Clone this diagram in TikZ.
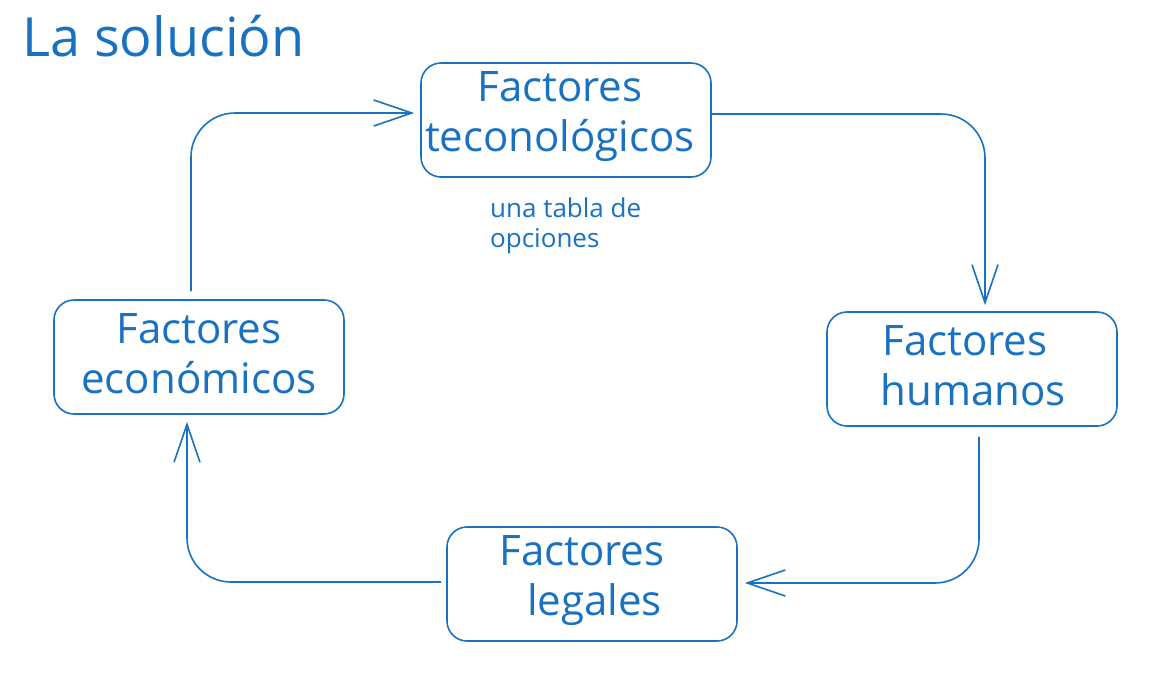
\documentclass[tikz,border=0pt]{standalone}
\usepackage{fontspec}
\setmainfont{Open Sans}
\usetikzlibrary{arrows.meta}
\definecolor{ink}{HTML}{1971C2}
\tikzset{
  box/.style={draw=ink, line width=1.6pt, rounded corners=20pt, minimum width=290pt, minimum height=114pt, inner sep=0pt},
  lbl/.style={text=ink, font=\fontsize{42}{50}\selectfont, align=center},
  conn/.style={draw=ink, line width=1.6pt, rounded corners=44pt, -{Straight Barb[length=38pt,width=26pt,line width=1.6pt]}},
}
\begin{document}
\begin{tikzpicture}[x=1pt,y=-1pt]
\useasboundingbox (0,0) rectangle (1164,686);
\node[box] (tec) at (566,120) {};
\node[box] (hum) at (972,369) {};
\node[box] (leg) at (592,584) {};
\node[box] (eco) at (199,357) {};
\node[lbl] (tect) at (560,117) {Factores\\teconológicos};
\node[lbl] (humt) at (965,366) {Factores\\\hspace*{0.4em}humanos};
\node[lbl] (legt) at (582,581) {Factores\\\hspace*{0.6em}legales};
\node[lbl] (ecot) at (199,354) {Factores\\económicos};
\node[text=ink, font=\fontsize{54}{58}\selectfont, anchor=base west, inner sep=0pt] (title) at (22,56) {La solución};
\node[text=ink, font=\fontsize{26}{30}\selectfont, align=left, anchor=north west, inner sep=0pt] (note) at (490,198) {una tabla de\\opciones};
\coordinate (s1) at ([xshift=-8pt,yshift=8pt]eco.north);
\coordinate (e1) at ([xshift=-6pt,yshift=7pt]tec.west);
\coordinate (s2) at ([yshift=6pt]tec.east);
\coordinate (e2) at ([xshift=13pt,yshift=6pt]hum.north);
\coordinate (s3) at ([xshift=7pt,yshift=-10pt]hum.south);
\coordinate (e3) at ([xshift=7pt,yshift=1pt]leg.east);
\coordinate (s4) at ([xshift=-5pt,yshift=2pt]leg.west);
\coordinate (e4) at ([xshift=-12pt,yshift=-7pt]eco.south);
\draw[conn] (s1) -- (s1 |- e1) -- (e1);
\draw[conn] (s2) -- (e2 |- s2) -- (e2);
\draw[conn] (s3) -- (s3 |- e3) -- (e3);
\draw[conn] (s4) -- (e4 |- s4) -- (e4);
\end{tikzpicture}
\end{document}
